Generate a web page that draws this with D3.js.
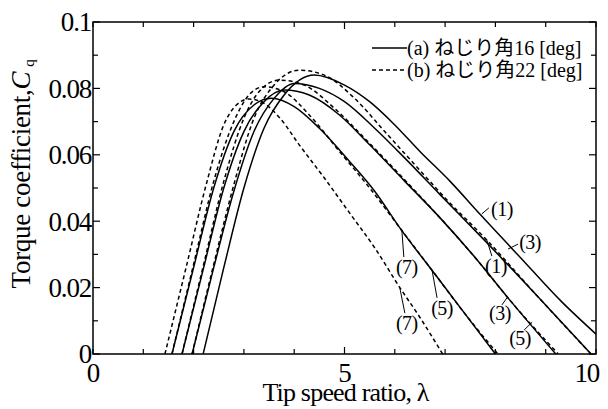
<!DOCTYPE html>
<meta charset="utf-8">
<style>
body { margin: 0; background: #fff; }
svg text { font-family: "Liberation Serif", "Times New Roman", Times, serif; fill: #000; }
svg text.jp { font-family: "Liberation Serif", "Noto Sans CJK JP", serif; }
.curve { fill: none; stroke: #000; stroke-width: 1.5px; }
.dashed { stroke-dasharray: 4,3; }
.frame { fill: none; stroke: #000; stroke-width: 1.5px; }
.tick { stroke: #000; stroke-width: 1.2px; }
.leader { stroke: #000; stroke-width: 1px; fill: none; }
</style>
<body>
<script src="https://d3js.org/d3.v7.min.js"></script>
<script>

// tick values / labels
var xTicks = [0, 1, 2, 3, 4, 5, 6, 7, 8, 9, 10];
var xLabels = [0, 5, 10];
var yTicks = [0, 0.01, 0.02, 0.03, 0.04, 0.05, 0.06, 0.07, 0.08, 0.09, 0.1];
var yLabels = [0, 0.02, 0.04, 0.06, 0.08, 0.1];

// (a) twist angle 16 deg, solid  [lambda, Cq]
var s1 = [[2.19,0],[2.6,0.026],[3.0,0.05],[3.4,0.068],[3.8,0.078],[4.4,0.084],[5.0,0.081],[5.5,0.076],[6.0,0.069],[6.5,0.061],[7.1,0.052],[7.7,0.042],[8.5,0.029],[9.3,0.016],[10,0.006]];
var s3 = [[1.97,0],[2.4,0.026],[2.8,0.049],[3.2,0.067],[3.6,0.077],[4.0,0.0815],[4.5,0.080],[5.0,0.076],[5.6,0.068],[6.2,0.059],[6.9,0.048],[7.8,0.034],[8.8,0.018],[9.9,0]];
var s5 = [[1.77,0],[2.2,0.026],[2.6,0.05],[3.0,0.067],[3.4,0.076],[3.8,0.0795],[4.3,0.078],[4.9,0.072],[5.5,0.063],[6.2,0.052],[6.9,0.041],[7.6,0.029],[8.3,0.016],[9.2,0]];
var s7 = [[1.57,0],[2.0,0.026],[2.4,0.05],[2.8,0.067],[3.2,0.075],[3.55,0.077],[4.0,0.0745],[4.5,0.068],[5.1,0.058],[5.6,0.049],[6.1,0.038],[6.8,0.024],[7.4,0.012],[8.0,0]];

// (b) twist angle 22 deg, dashed
var d1 = [[1.97,0],[2.4,0.027],[2.8,0.051],[3.2,0.071],[3.6,0.081],[4.1,0.0855],[4.6,0.084],[5.2,0.077],[5.8,0.067],[6.4,0.057],[7.0,0.047],[7.85,0.034],[8.8,0.018],[9.9,0]];
var d3c = [[1.77,0],[2.2,0.027],[2.6,0.052],[3.0,0.071],[3.3,0.079],[3.7,0.0825],[4.2,0.081],[4.8,0.074],[5.4,0.065],[6.1,0.054],[6.9,0.041],[7.6,0.029],[8.3,0.016],[9.25,0]];
var d5 = [[1.57,0],[2.0,0.027],[2.4,0.052],[2.8,0.070],[3.1,0.078],[3.4,0.0805],[3.8,0.079],[4.3,0.072],[4.9,0.061],[5.5,0.050],[6.1,0.038],[6.8,0.024],[7.4,0.012],[8.05,0]];
var d7 = [[1.43,0],[1.85,0.026],[2.25,0.051],[2.6,0.069],[2.85,0.075],[3.1,0.0768],[3.4,0.0755],[3.72,0.071],[4.1,0.063],[4.6,0.053],[5.1,0.0425],[5.6,0.032],[6.1,0.020],[6.5,0.011],[6.95,0]];

var solidSeries = [s1, s3, s5, s7];
var dashedSeries = [d1, d3c, d5, d7];

var legendLabels = ["(a) ねじり角16 [deg]", "(b) ねじり角22 [deg]"];

// curve labels: text, anchor on curve, leader end, text centre (data units)
var curveLabels = [
  ["(1)", 7.73, 0.0422, 7.87, 0.0440, 8.13, 0.0437],
  ["(3)", 8.25, 0.0316, 8.45, 0.0331, 8.69, 0.0337],
  ["(1)", 7.83, 0.0343, 7.93, 0.0295, 8.01, 0.0265],
  ["(3)", 8.23, 0.0169, 8.13, 0.0148, 8.09, 0.0123],
  ["(5)", 8.73, 0.0096, 8.57, 0.0072, 8.49, 0.0048],
  ["(7)", 6.14, 0.0373, 6.18, 0.0292, 6.24, 0.0262],
  ["(5)", 6.74, 0.0253, 6.84, 0.0169, 6.94, 0.0139],
  ["(7)", 6.10, 0.0199, 6.20, 0.0123, 6.24, 0.0093]
];

var W = 608, H = 409;
var margin = {top: 22, right: 12, bottom: 55, left: 93};
var width = W - margin.left - margin.right,
    height = H - margin.top - margin.bottom;

var x = d3.scaleLinear().domain([0, 10]).range([0, width]);
var y = d3.scaleLinear().domain([0, 0.1]).range([height, 0]);

var svg = d3.select("body").append("svg")
    .attr("width", W)
    .attr("height", H)
  .append("g")
    .attr("transform", "translate(" + margin.left + "," + margin.top + ")");

var line = d3.line()
    .x(function(d) { return x(d[0]); })
    .y(function(d) { return y(d[1]); })
    .curve(d3.curveMonotoneX);

// curves
svg.selectAll(".solid").data(solidSeries).enter().append("path")
    .attr("class", "curve solid")
    .attr("d", line);
svg.selectAll(".dashed").data(dashedSeries).enter().append("path")
    .attr("class", "curve dashed")
    .attr("d", line);

// inward ticks on all four sides
var ticks = svg.append("g");
xTicks.forEach(function(t) {
  var len = (t == 5) ? 7 : 5;
  ticks.append("line").attr("class", "tick")
      .attr("x1", x(t)).attr("x2", x(t)).attr("y1", height).attr("y2", height - len);
  ticks.append("line").attr("class", "tick")
      .attr("x1", x(t)).attr("x2", x(t)).attr("y1", 0).attr("y2", len);
});
yTicks.forEach(function(t, i) {
  var len = (i % 2 == 0) ? 7 : 5;
  ticks.append("line").attr("class", "tick")
      .attr("x1", 0).attr("x2", len).attr("y1", y(t)).attr("y2", y(t));
  ticks.append("line").attr("class", "tick")
      .attr("x1", width).attr("x2", width - len).attr("y1", y(t)).attr("y2", y(t));
});

svg.append("rect").attr("class", "frame")
    .attr("x", 0).attr("y", 0).attr("width", width).attr("height", height);

// tick labels
svg.selectAll(".ylab").data(yLabels).enter().append("text")
    .attr("x", -2)
    .attr("y", function(d) { return y(d); })
    .attr("dy", "0.35em")
    .attr("text-anchor", "end")
    .style("font-size", "27px")
    .style("letter-spacing", "-1.2px")
    .text(function(d) { return d; });

svg.selectAll(".xlab").data(xLabels).enter().append("text")
    .attr("x", function(d) { return d == 10 ? x(d) + 3 : x(d); })
    .attr("y", height + 28)
    .attr("text-anchor", function(d) { return d == 10 ? "end" : "middle"; })
    .style("font-size", "27px")
    .style("letter-spacing", "-1.2px")
    .text(function(d) { return d; });

// axis titles
svg.append("text")
    .attr("x", width / 2 + 1)
    .attr("y", height + 47)
    .attr("text-anchor", "middle")
    .style("font-size", "26px")
    .style("letter-spacing", "-0.8px")
    .text("Tip speed ratio, λ");

var yt = svg.append("text")
    .attr("transform", "translate(-63," + (height / 2 - 14) + ") rotate(-90)")
    .attr("text-anchor", "middle")
    .style("font-size", "27px")
    .style("letter-spacing", "-0.3px");
yt.append("tspan").text("Torque coefficient,");
yt.append("tspan").style("font-style", "italic").text("C");
yt.append("tspan").attr("dx", 5).attr("dy", 4).style("font-size", "15px").text("q");

// legend
var leg = svg.append("g");
legendLabels.forEach(function(s, i) {
  var ly = 26 + i * 22;
  leg.append("line")
      .attr("class", i == 0 ? "curve" : "curve dashed")
      .attr("x1", 279).attr("x2", 314).attr("y1", ly).attr("y2", ly);
  leg.append("text")
      .attr("class", "jp")
      .attr("x", 314).attr("y", ly).attr("dy", "0.35em")
      .style("font-size", "20px")
      .text(s);
});

// curve labels with leaders
curveLabels.forEach(function(c) {
  svg.append("path").attr("class", "leader")
      .attr("d", "M" + x(c[1]) + "," + y(c[2]) + "L" + x(c[3]) + "," + y(c[4]));
  svg.append("text")
      .attr("x", x(c[5])).attr("y", y(c[6])).attr("dy", "0.35em")
      .attr("text-anchor", "middle")
      .style("font-size", "20px")
      .style("letter-spacing", "-0.5px")
      .text(c[0]);
});

</script>
</body>
